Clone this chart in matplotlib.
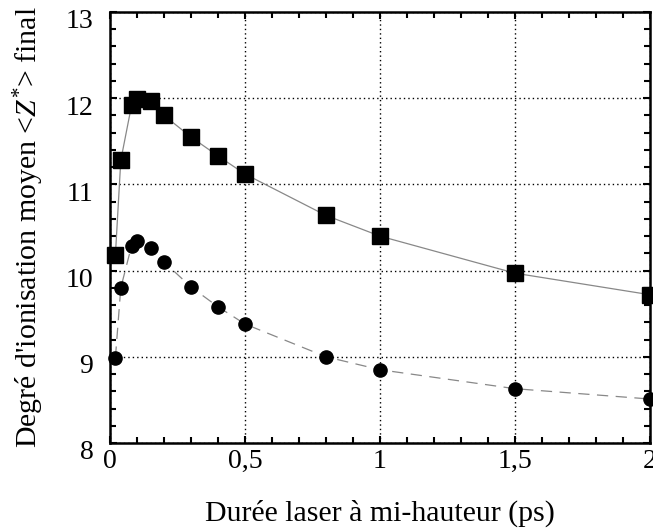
import matplotlib
matplotlib.use("Agg")
import matplotlib.pyplot as plt
from matplotlib.ticker import MultipleLocator, FuncFormatter
from matplotlib.transforms import ScaledTranslation

plt.rcParams['font.family'] = ['Liberation Serif', 'DejaVu Serif']
plt.rcParams['mathtext.fontset'] = 'custom'
plt.rcParams['mathtext.rm'] = 'Liberation Serif'
plt.rcParams['mathtext.it'] = 'Liberation Serif:italic'

# Durée laser (ps)
duree = [0.02, 0.04, 0.08, 0.1, 0.15, 0.2, 0.3, 0.4, 0.5, 0.8, 1.0, 1.5, 2.0]
# <Z*> final, série carrés
z_carres = [10.18, 11.28, 11.92, 11.99, 11.97, 11.80, 11.55, 11.33, 11.12,
            10.64, 10.40, 9.97, 9.72]
# <Z*> final, série ronds
z_ronds = [8.99, 9.80, 10.29, 10.34, 10.26, 10.10, 9.81, 9.58, 9.38,
           9.00, 8.85, 8.63, 8.51]

fig = plt.figure(figsize=(6.53, 5.32), dpi=100)
ax = fig.add_axes([110/653, 89/532, 540/653, 431/532])

ax.plot(duree, z_carres, color='#888888', lw=0.9, zorder=2)
ax.plot(duree, z_carres, ls='none', marker='s', ms=11.5, color='black',
        zorder=3, clip_on=False)
ax.plot(duree, z_ronds, color='#888888', lw=0.9, dashes=(9, 6), zorder=2)
ax.plot(duree, z_ronds, ls='none', marker='o', ms=9.5, color='black',
        zorder=3, clip_on=False)

ax.set_xlim(0, 2)
ax.set_ylim(8, 13)
ax.xaxis.set_major_locator(MultipleLocator(0.5))
ax.xaxis.set_minor_locator(MultipleLocator(0.1))
ax.yaxis.set_major_locator(MultipleLocator(1))
ax.yaxis.set_minor_locator(MultipleLocator(0.2))
ax.xaxis.set_major_formatter(FuncFormatter(lambda v, p: ('%g' % v).replace('.', ',')))

ax.grid(True, which='major', color='black', ls=(0, (1.0, 2.2)), lw=1.0)
ax.tick_params(which='both', direction='in', top=True, right=True,
               labelsize=20, width=1.5)
ax.tick_params(which='major', length=5)
ax.tick_params(which='minor', length=4)
ax.tick_params(axis='y', pad=12)
ax.tick_params(axis='x', pad=4)
shift = ScaledTranslation(0, -5/72, fig.dpi_scale_trans)
for lab in ax.get_yticklabels():
    lab.set_transform(lab.get_transform() + shift)
for s in ax.spines.values():
    s.set_linewidth(1.8)

ax.set_xlabel('Durée laser à mi-hauteur (ps)', fontsize=21.5, labelpad=19)
ax.set_ylabel("Degré d'ionisation moyen <$Z^{*}$> final", fontsize=21.5,
              labelpad=14)

fig.savefig('out.png', dpi=100)
